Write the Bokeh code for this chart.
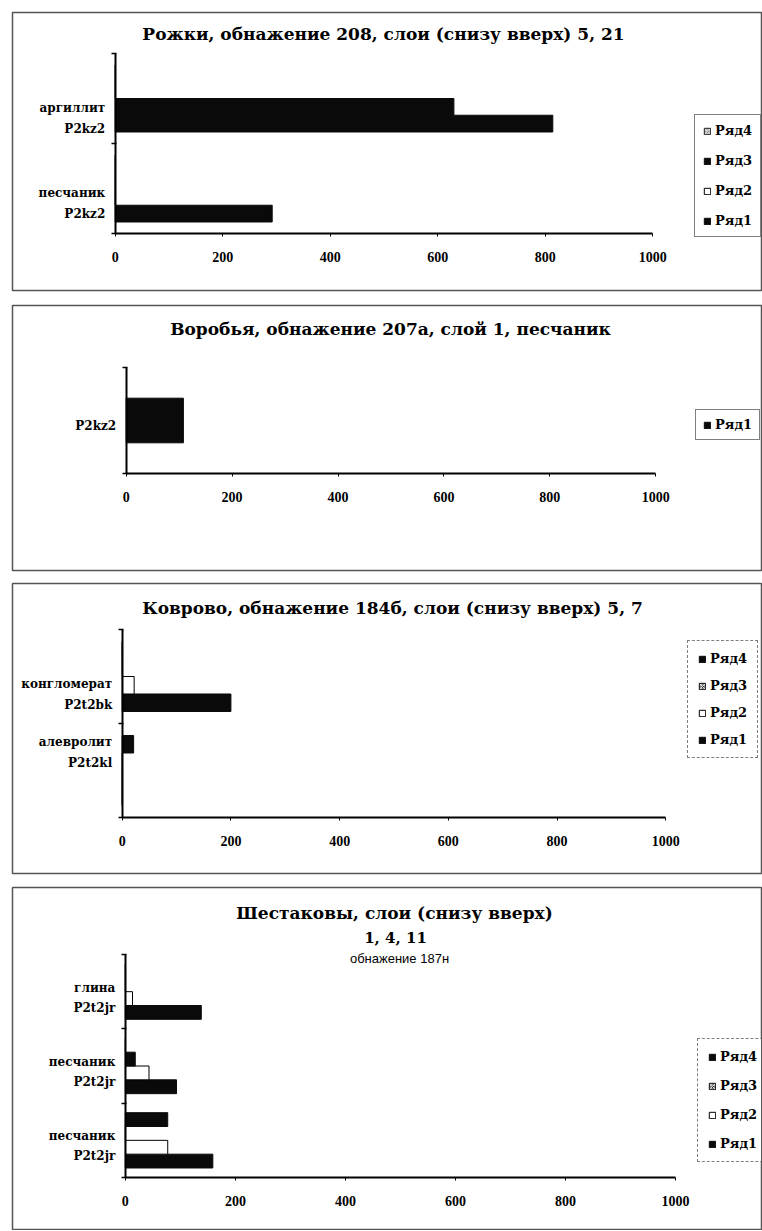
from bokeh.plotting import figure
from bokeh.models import (Range1d, FixedTicker, Legend, LegendItem, Label, ColumnDataSource,
                          CustomJSTickFormatter)
from bokeh.layouts import column
from bokeh.embed import file_html
from bokeh.resources import INLINE

# ---------------- data ----------------
series_names = ["Ряд1", "Ряд2", "Ряд3", "Ряд4"]
x_ticks = [0, 200, 400, 600, 800, 1000]

# Panel 1
title1 = ["Рожки, обнажение 208, слои (снизу вверх) 5, 21"]
cats1 = ["песчаник\nP2kz2", "аргиллит\nP2kz2"]          # bottom -> top
p1_r1 = [292, 814]
p1_r2 = [0, 630]
p1_r3 = [0, 0]
p1_r4 = [0, 0]

# Panel 2
title2 = ["Воробья, обнажение 207а, слой 1, песчаник"]
cats2 = ["P2kz2"]
p2_r1 = [108]

# Panel 3
title3 = ["Коврово, обнажение 184б, слои (снизу вверх) 5, 7"]
cats3 = ["алевролит\nP2t2kl", "конгломерат\nP2t2bk"]
p3_r1 = [0, 200]
p3_r2 = [0, 22]
p3_r3 = [0, 0]
p3_r4 = [21, 0]

# Panel 4
title4 = ["Шестаковы, слои (снизу вверх)", "1, 4, 11", "обнажение 187н"]
cats4 = ["песчаник\nP2t2jr", "песчаник\nP2t2jr", "глина\nP2t2jr"]
p4_r1 = [159, 93, 138]
p4_r2 = [77, 43, 13]
p4_r3 = [0, 18, 0]
p4_r4 = [77, 0, 0]

# ---------------- styles ----------------
BLACK = dict(fill="#0a0a0a", line="#0a0a0a", hatch=" ")
WHITE = dict(fill="#ffffff", line="#000000", hatch=" ")
PAT_LIGHT = dict(fill="#8c8c8c", line="#222222", hatch="criss_cross")
PAT_DARK = dict(fill="#2e2e2e", line="#111111", hatch="criss_cross")

SERIF = "DejaVu Serif"
GAP = 1.375
PAGE_W = 762


def panel(cats, values, names, bar_st, sw_st, fig_top, H, box, axis, titles,
          lab_off, leg, leg_dash=None, leg_lw=1.2):
    bl, bt, br, bb = box                 # chart box (page px)
    ax0, ax1000, yt, yb = axis           # axis geometry (page px)
    n = len(cats)
    ppu = (ax1000 - ax0) / 1000.0
    bpx = (yb - yt) / n
    x_start = -(ax0 - bl) / ppu
    x_end = (br - ax0) / ppu
    y_start = -0.5 - (bb - yb) / bpx
    y_end = n - 0.5 + (yt - bt) / bpx

    p = figure(width=PAGE_W, height=H, output_backend="svg", toolbar_location=None,
               x_range=Range1d(x_start, x_end), y_range=Range1d(y_start, y_end),
               min_border_left=bl, min_border_right=PAGE_W - br,
               min_border_top=bt - fig_top, min_border_bottom=fig_top + H - bb)
    p.title.visible = False
    p.outline_line_color = "#555555"
    p.outline_line_width = 1.5
    p.xgrid.visible = False
    p.ygrid.visible = False
    p.background_fill_color = "white"
    p.border_fill_color = "white"

    # bars (rows with a zero value keep the legend swatch style)
    ns = len(values)
    slot = 1.0 / (ns + GAP)
    group = ns * slot
    legend_refs = []
    for k, vals in enumerate(values):
        rows = dict(y=[], right=[], fill=[], line=[], hatch=[])
        leg_index = None
        for i, v in enumerate(vals):
            st = bar_st[k] if v > 0 else sw_st[k]
            if v <= 0 and leg_index is None:
                leg_index = i
            rows["y"].append(i - group / 2 + (k + 0.5) * slot)
            rows["right"].append(v)
            rows["fill"].append(st["fill"])
            rows["line"].append(st["line"])
            rows["hatch"].append(st["hatch"])
        if leg_index is None or bar_st[k] is sw_st[k]:
            leg_index = 0
        r = p.hbar(y="y", right="right", left=0, height=slot, source=ColumnDataSource(rows),
                   fill_color="fill", line_color="line", hatch_pattern="hatch",
                   hatch_color="#dddddd", hatch_scale=4, hatch_weight=1, line_width=1)
        legend_refs.append((names[k], r, leg_index))

    # axes
    xa = p.xaxis[0]
    xa.fixed_location = -0.5
    xa.ticker = FixedTicker(ticks=x_ticks)
    xa.bounds = (0, 1000)
    xa.axis_line_width = 2
    xa.axis_line_color = "black"
    xa.major_tick_out = 3
    xa.major_tick_in = 0
    xa.minor_tick_out = 0
    xa.major_label_standoff = 15
    xa.major_label_text_font = "Liberation Serif"
    xa.major_label_text_font_style = "bold"
    xa.major_label_text_font_size = "14px"
    xa.major_label_text_color = "black"

    ya = p.yaxis[0]
    ya.fixed_location = 0
    ya.bounds = (-0.5, n - 0.5)
    ya.ticker = FixedTicker(ticks=[i - 0.5 for i in range(n + 1)])
    ya.formatter = CustomJSTickFormatter(code="return ''")
    ya.axis_line_width = 2
    ya.axis_line_color = "black"
    ya.major_tick_out = 4
    ya.major_tick_in = 1
    ya.major_tick_line_width = 1.5
    ya.major_tick_line_color = "black"
    ya.minor_tick_out = 0
    ya.minor_tick_in = 0

    # category labels
    for i, c in enumerate(cats):
        p.add_layout(Label(x=0, y=i, x_offset=-10, y_offset=-lab_off[i], text=c,
                           text_align="right", text_baseline="middle",
                           text_font=SERIF, text_font_style="bold", text_font_size="12px",
                           text_color="black", text_line_height=1.45))

    # titles (page px -> frame-relative screen units)
    for (txt, tx, ty, font, size, style) in titles:
        p.add_layout(Label(x=tx - bl, y=bb - ty, x_units="screen", y_units="screen",
                           text=txt, text_align="center", text_baseline="middle",
                           text_font=font, text_font_size=size, text_font_style=style,
                           text_color="black"))

    # legend
    items = []
    for nm, r, idx in reversed(legend_refs):
        items.append(LegendItem(label=nm, renderers=[r], index=idx))
    lx, ltop, spacing, padding = leg
    nitems = len(items)
    lh = 2 * padding + nitems * 14 + (nitems - 1) * spacing
    legend = Legend(items=items, location=(lx - bl, bb - (ltop + lh)),
                    glyph_width=8, glyph_height=8, label_height=14, label_width=20,
                    spacing=spacing, padding=padding, margin=0, label_standoff=4,
                    label_text_font=SERIF, label_text_font_style="bold",
                    label_text_font_size="13px", label_text_color="black",
                    border_line_color="black", border_line_width=leg_lw,
                    background_fill_color="white", background_fill_alpha=1)
    if leg_dash:
        legend.border_line_dash = leg_dash
    p.add_layout(legend)
    return p


TF = ("DejaVu Serif", "17px", "bold")

p1 = panel(cats1, [p1_r1, p1_r2, p1_r3, p1_r4], series_names,
           [BLACK, BLACK, BLACK, BLACK], [BLACK, WHITE, BLACK, PAT_LIGHT],
           fig_top=0, H=297, box=(10, 12, 761, 290), axis=(113, 652, 53, 233),
           titles=[(title1[0], 381, 33) + TF], lab_off=[15, 20],
           leg=(692, 120, 15, 8), leg_lw=1.5)

p2 = panel(cats2, [p2_r1], series_names[:1],
           [BLACK], [BLACK],
           fig_top=297, H=280, box=(10, 305, 761, 570), axis=(124, 655, 367, 473),
           titles=[(title2[0], 388, 328) + TF], lab_off=[5],
           leg=(693, 412, 0, 7), leg_lw=1.5)

p3 = panel(cats3, [p3_r1, p3_r2, p3_r3, p3_r4], series_names,
           [BLACK, WHITE, BLACK, BLACK], [BLACK, WHITE, PAT_DARK, BLACK],
           fig_top=577, H=303, box=(10, 583, 761, 873), axis=(120, 665, 629, 817),
           titles=[(title3[0], 390, 607) + TF], lab_off=[-18, 18],
           leg=(685, 646, 12, 10), leg_dash="4 3")

p4 = panel(cats4, [p4_r1, p4_r2, p4_r3, p4_r4], series_names,
           [BLACK, WHITE, BLACK, BLACK], [BLACK, WHITE, PAT_DARK, BLACK],
           fig_top=880, H=350, box=(12, 887, 762, 1229), axis=(125, 676, 954, 1177),
           titles=[(title4[0], 394, 912) + TF,
                   (title4[1], 395, 937, "DejaVu Serif", "15px", "bold"),
                   (title4[2], 399, 958, "Liberation Sans", "13px", "normal")],
           lab_off=[6, 6, 6],
           leg=(697, 1044, 14, 10), leg_dash="6 3 2 3")

layout = column(p1, p2, p3, p4, spacing=0)
open("out.html", "w").write(file_html(layout, INLINE))
